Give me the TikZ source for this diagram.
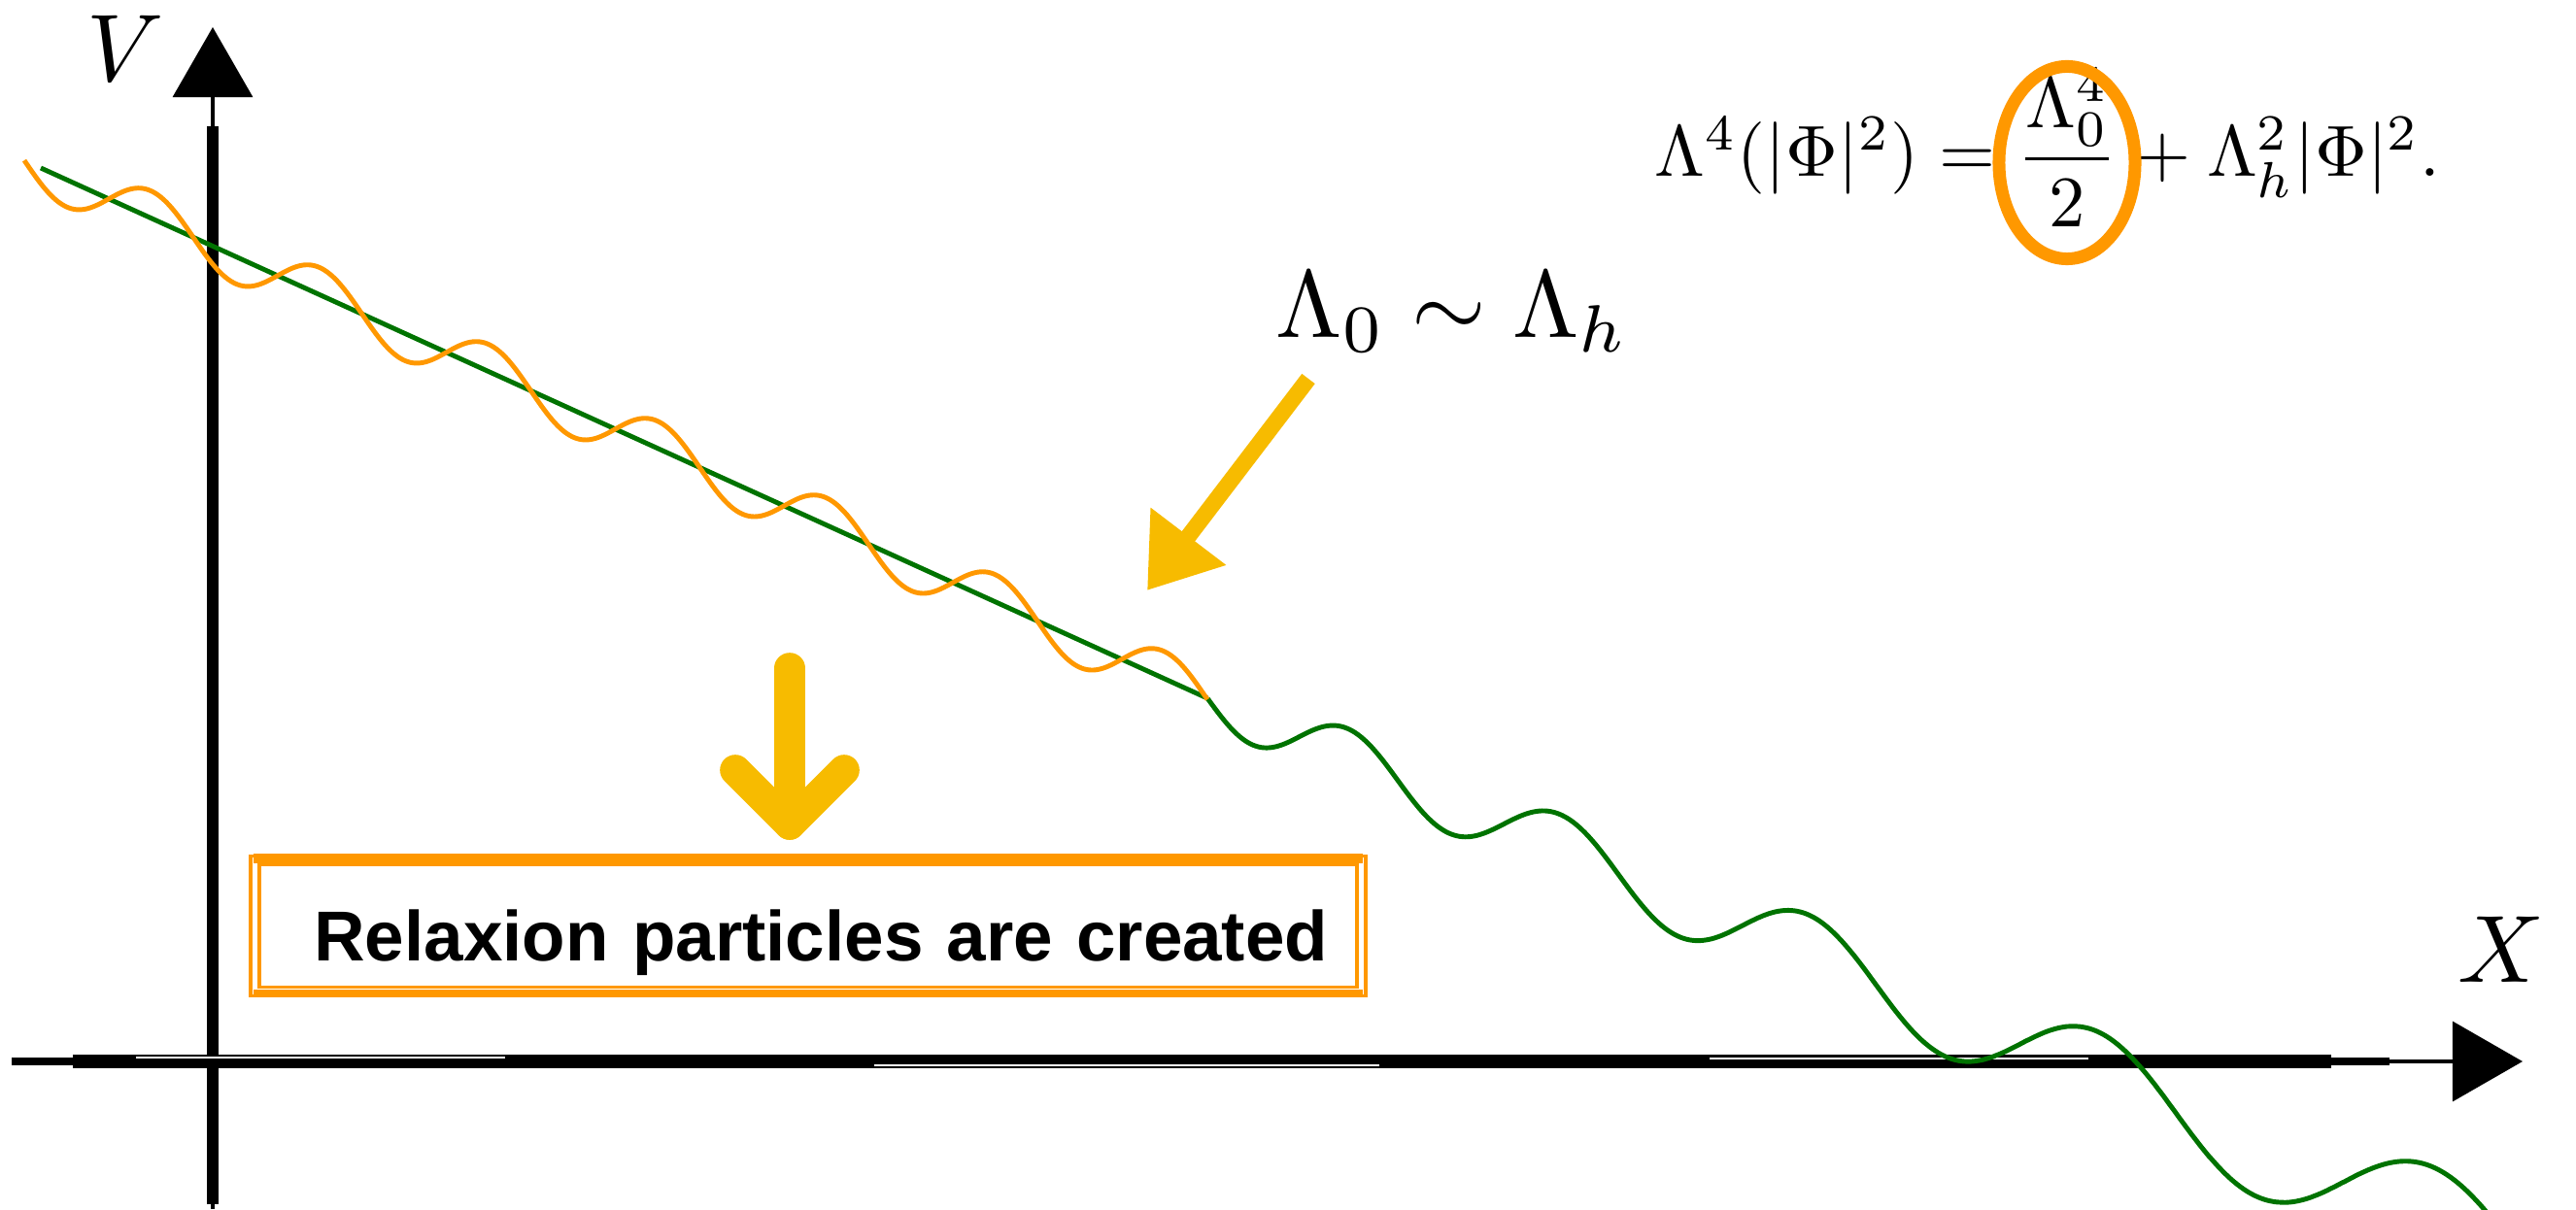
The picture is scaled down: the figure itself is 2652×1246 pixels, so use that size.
\documentclass[tikz,border=0pt]{standalone}
\usepackage{graphicx}
\usepackage{fontspec}
\usepackage{tikz}
\usetikzlibrary{arrows.meta,positioning}
\newfontfamily\boxsans{Liberation Sans}
\definecolor{brushorange}{RGB}{255,152,0}
\definecolor{hintyellow}{RGB}{247,187,0}
\definecolor{potgreen}{RGB}{0,115,0}
\newcommand{\labelsize}[1]{\scalebox{2.8}{#1}}
\newcommand{\eqsize}[1]{\scalebox{2.12}{#1}}

\begin{document}
\begin{tikzpicture}[
  x=0.01cm, y=-0.01cm,
  axis/.style={draw, black, line width=0.9pt, -{Triangle[length=0.72cm, width=0.82cm]}},
  brush/.style={draw, black, line width=3.8pt},
  streak/.style={draw=white, line width=0.35pt},
  biglabel/.style={inner sep=0pt},
  eqpart/.style={inner sep=0pt, anchor=base west},
  slope/.style={draw=potgreen, line width=1.4pt},
  ripple/.style={draw=brushorange, line width=1.4pt},
  relaxbox/.style={draw=brushorange, line width=1pt, double=white, double distance=1.6pt, minimum width=11.38cm, minimum height=1.35cm, text width=10.70cm, align=right, inner xsep=0.34cm, inner ysep=0.1cm, text height=0.93cm, text depth=0.22cm, font=\boxsans\bfseries\fontsize{20.7}{24}\selectfont},
  band/.style={draw=brushorange, line width=2.8pt},
  circlemark/.style={draw=brushorange, line width=3.7pt},
  hint/.style={draw=hintyellow, line width=4.8pt, -{Triangle[length=0.7cm, width=0.93cm]}},
  chevron/.style={draw=hintyellow, line width=9pt, line cap=round, line join=round}
]

\useasboundingbox (0,0) rectangle (2652,1246);

\coordinate (xfrom) at (12,1093);
\coordinate (xto) at (2597,1093);
\coordinate (yfrom) at (219,1245);
\coordinate (yto) at (219,28);

\path [axis] (xfrom) -- (xto);
\path [axis] (yfrom) -- (yto);
\path [brush] (75,1093) -- (2400,1093);
\path [brush, line width=2pt] (xfrom) -- (75,1093);
\path [brush, line width=2pt] (2400,1093) -- (2460,1093);
\path [brush, line width=3.6pt] (219,1240) -- (219,130);
\path [streak] (140,1089) -- (520,1089);
\path [streak] (900,1097) -- (1420,1097);
\path [streak] (1760,1090) -- (2150,1090);

\coordinate (linestart) at (42,173);
\coordinate (onset) at (1243,719);
\path [slope] (linestart) -- (onset);

\begin{scope}
\clip (0,0) rectangle (2652,1246);
\path [slope] plot [domain=1243:2700, samples=500, variable=\x]
  (\x, {719 + 0.427*(\x-1243) + (27.1 + 0.0229*(\x-1243))*sin(2357.3*ln(1 + 0.0846*(\x-1243)/100))});
\end{scope}

\path [ripple] plot [domain=25:1243, samples=500, variable=\x]
  (\x, {173 + 0.4546*(\x-42) - 28*sin(2.0713*(\x-112))});

\node [relaxbox] (created) at (832,953.5) {Relaxion particles are created};
\path [band] (created.north west) -- (created.north east);
\path [band, line width=2.4pt] (created.south west) -- (created.south east);

\coordinate (chevtip) at (813,849);
\path [chevron] (813,688) -- (chevtip);
\path [chevron] (757,793) -- (chevtip) -- (869,793);

\node [biglabel] (vlabel) at (129,50) {\labelsize{$V$}};
\node [biglabel] (xlabel) at (2575,978) {\labelsize{$X$}};
\node [biglabel, anchor=base west] (scales) at (1313,348) {\labelsize{$\Lambda_0 \sim \Lambda_h$}};

\coordinate (hintstart) at (1347,390);
\coordinate (hintend) at (1181,608);
\path [hint] (hintstart) -- (hintend);

\node [eqpart] (lhs) at (1703,182) {\eqsize{$\Lambda^4(|\Phi|^2) = {}$}};
\node [eqpart] (frac) at (lhs.base east) {\eqsize{$\displaystyle\frac{\Lambda_0^4}{2}$}};
\node [eqpart] (rhs) at (frac.base east) {\eqsize{${}+ \Lambda_h^2|\Phi|^2.$}};
\path [circlemark] ([yshift=0.145cm]frac.base) ellipse [x radius=0.7cm, y radius=0.99cm];

\end{tikzpicture}
\end{document}
